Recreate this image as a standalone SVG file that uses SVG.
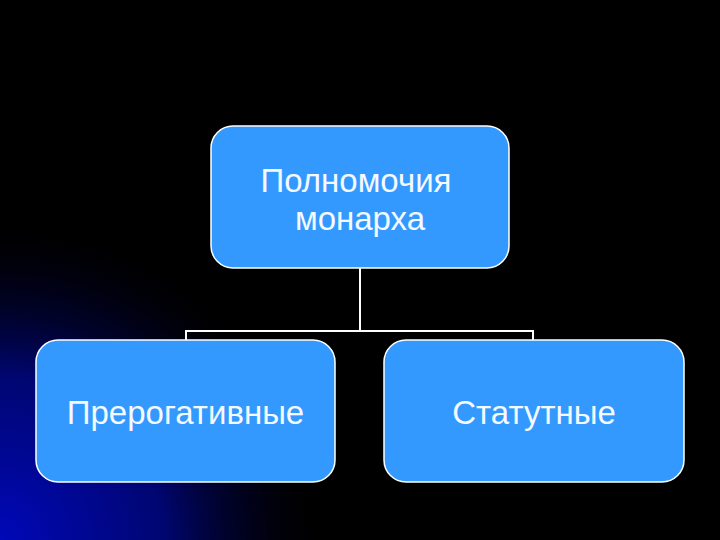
<svg xmlns="http://www.w3.org/2000/svg" width="720" height="540" viewBox="0 0 720 540">
<defs>
<radialGradient id="bg" cx="0" cy="540" r="330" gradientUnits="userSpaceOnUse">
<stop offset="0" stop-color="#0008B8"/>
<stop offset="0.5" stop-color="#000670"/>
<stop offset="1" stop-color="#000000" stop-opacity="0"/>
</radialGradient>
<style>
.box{fill:#3399FF;stroke:#FFFFFF;stroke-width:1.5}
.lbl{font-family:"Liberation Sans",Arial,sans-serif;font-size:33px;fill:#F4FAFF;text-anchor:middle}
.conn{fill:none;stroke:#FFFFFF;stroke-width:2}
</style>
</defs>
<rect width="720" height="540" fill="#000000"/>
<rect width="720" height="540" fill="url(#bg)"/>
<g id="connectors">
<path class="conn" d="M360 268 V331 M186 341 V331 H533 V341"/>
</g>
<g id="node-root">
<rect class="box" x="211" y="126" width="298" height="142" rx="22"/>
<text class="lbl" x="356" y="192">Полномочия</text>
<text class="lbl" x="360" y="230">монарха</text>
</g>
<g id="node-prerogative">
<rect class="box" x="36" y="340" width="299" height="142" rx="22"/>
<text class="lbl" x="185.5" y="424">Прерогативные</text>
</g>
<g id="node-statutory">
<rect class="box" x="384" y="340" width="300" height="142" rx="22"/>
<text class="lbl" x="534" y="424">Статутные</text>
</g>
</svg>
